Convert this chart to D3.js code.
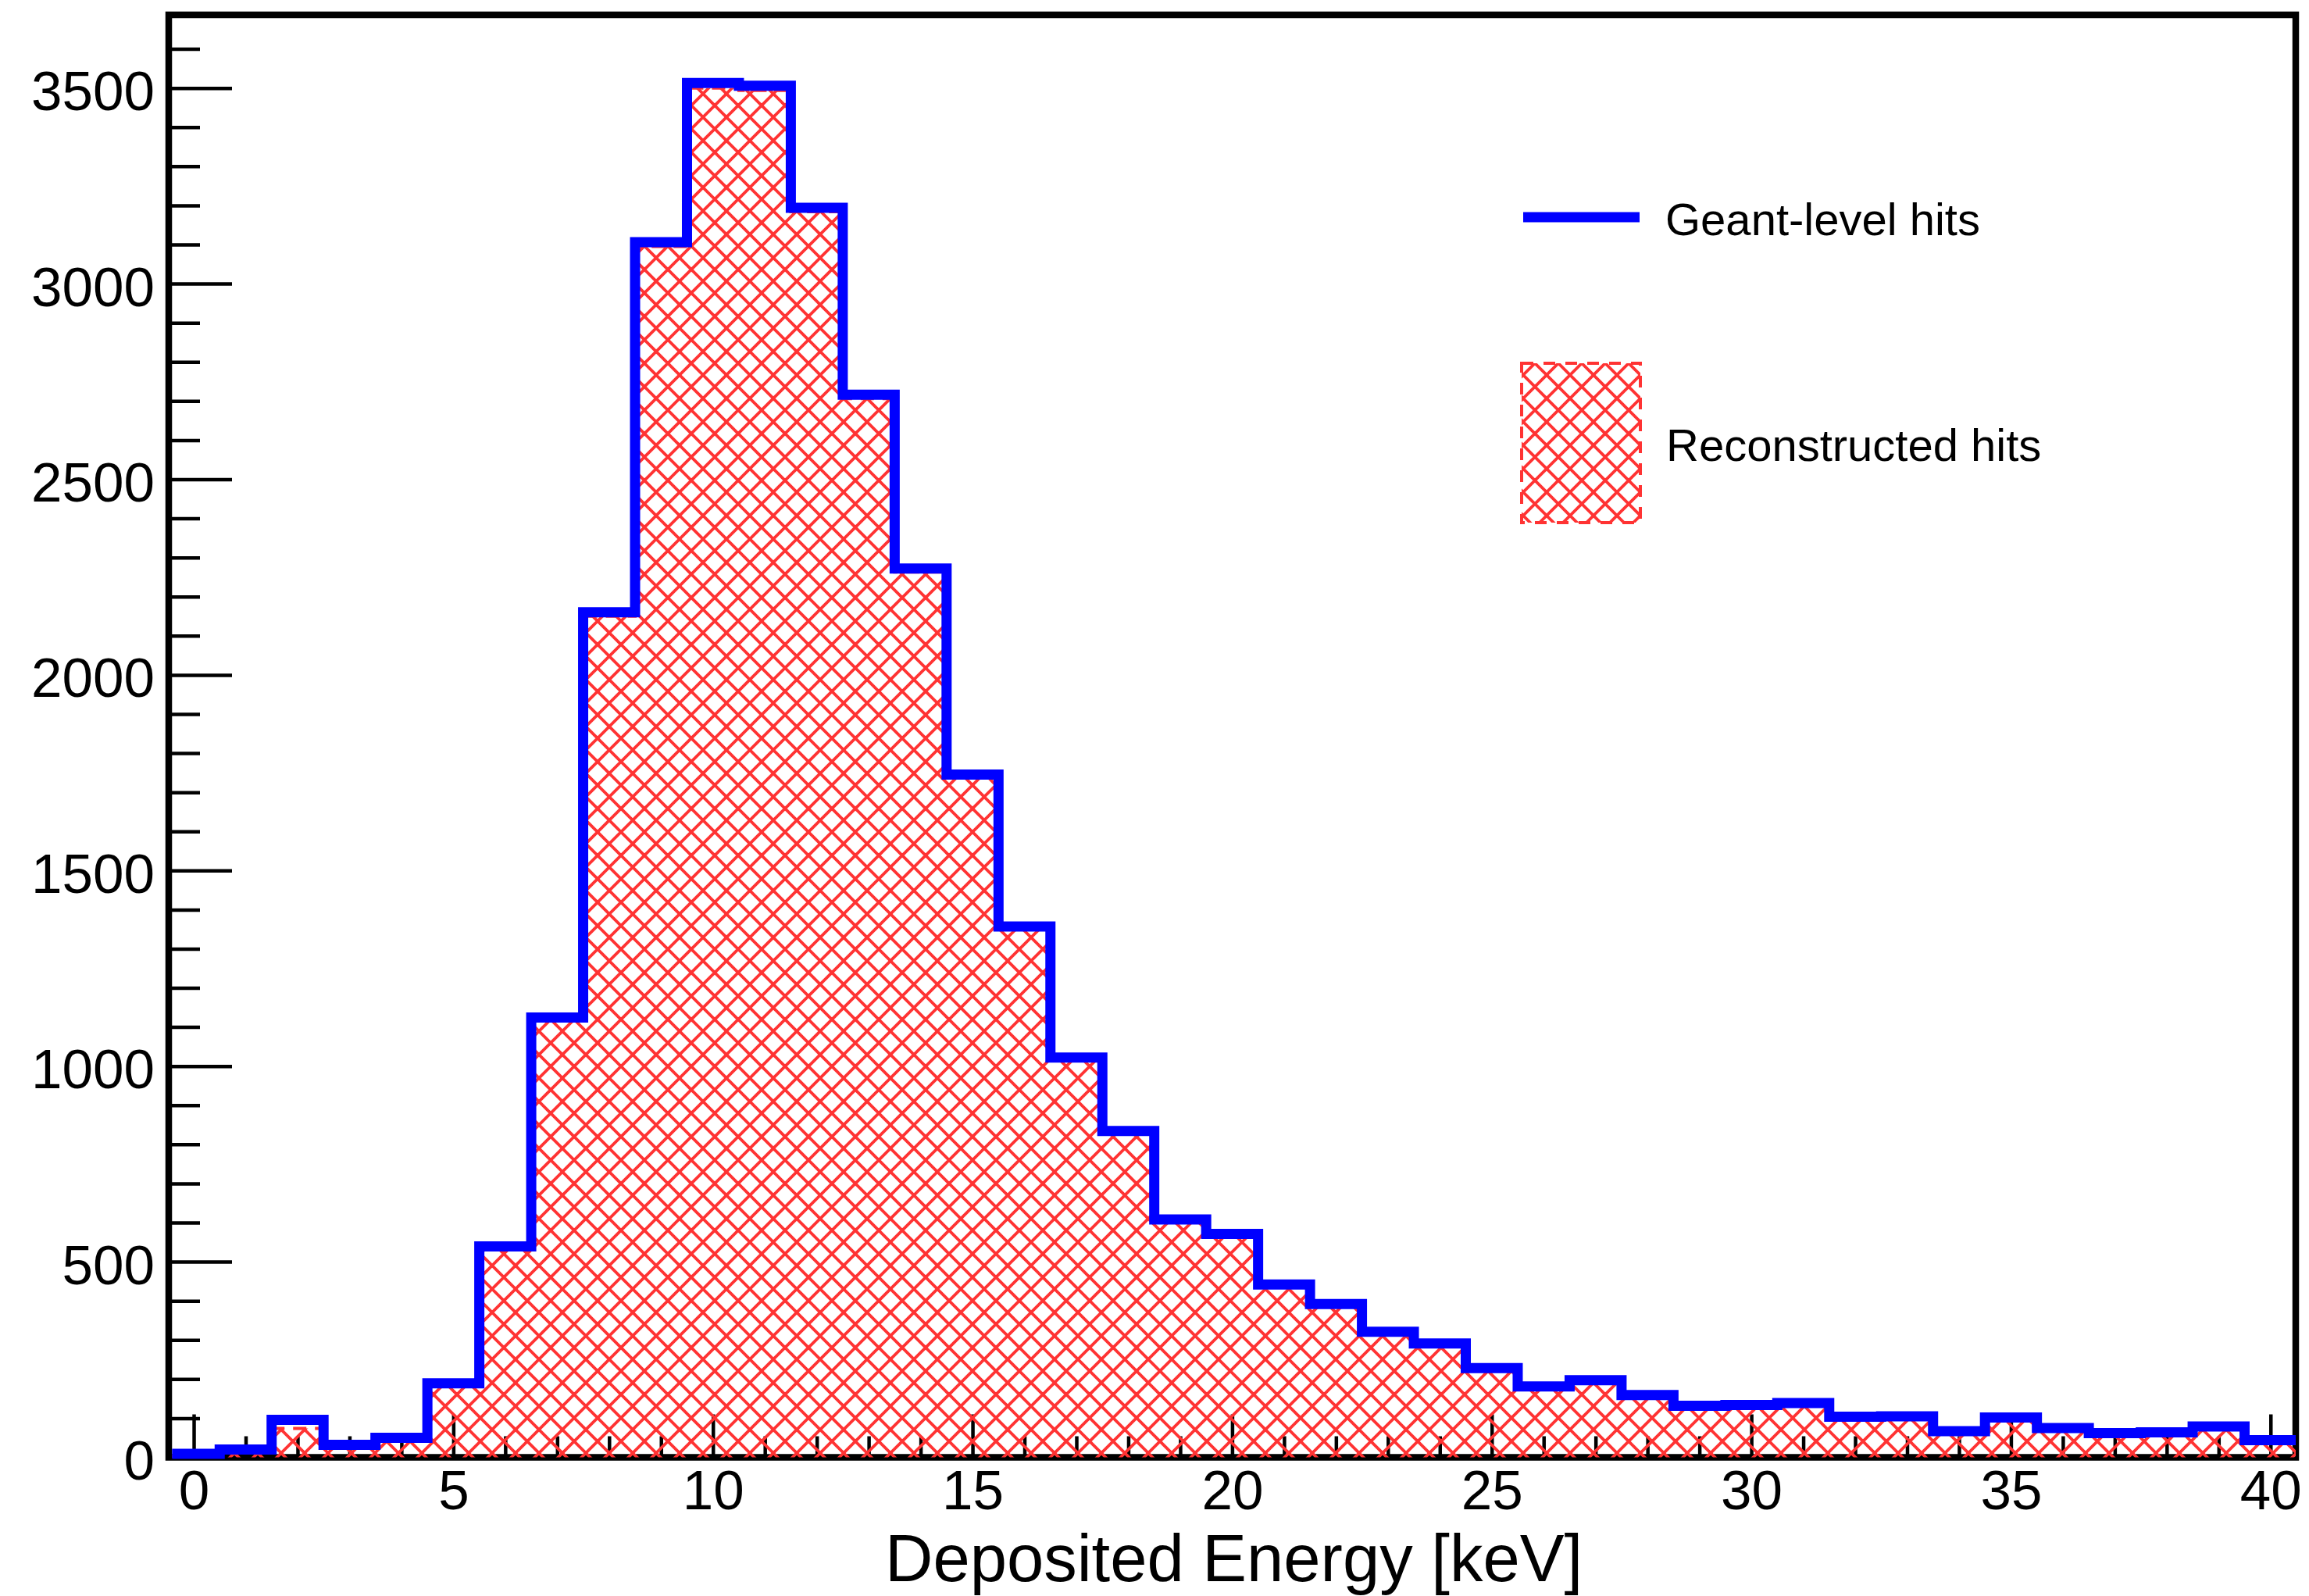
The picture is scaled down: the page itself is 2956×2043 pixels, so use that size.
<!DOCTYPE html>
<html>
<head>
<meta charset="utf-8">
<script src="https://cdn.jsdelivr.net/npm/d3@7"></script>
<style>
  html, body { margin: 0; padding: 0; background: #fff; }
  svg { display: block; }
  text { font-family: "Liberation Sans", Arial, Helvetica, sans-serif; fill: #000; }
</style>
</head>
<body>
<svg id="chart" width="2956" height="2043"></svg>
<script>
// ---- data ----
const binCenters = d3.range(0, 41); // Deposited energy bins, keV (width 1, centred on integers)
const geantHits = [9, 20, 96, 32, 50, 189, 539, 1124, 2160, 3106, 3513, 3506, 3194, 2716, 2272, 1745,
  1357, 1022, 834, 608, 571, 442, 392, 321, 291, 228, 181, 197, 159, 132, 134, 139, 104, 105, 67,
  102, 75, 62, 64, 79, 44];
const recoHits = [3, 14, 74, 30, 47, 186, 534, 1117, 2150, 3095, 3500, 3494, 3184, 2706, 2263, 1738,
  1351, 1017, 829, 604, 567, 438, 388, 318, 288, 225, 178, 194, 156, 130, 131, 136, 101, 103, 65,
  99, 73, 60, 62, 76, 42];
const xMajorTicks = [0, 5, 10, 15, 20, 25, 30, 35, 40];
const xMinorTicks = d3.range(0, 41).filter(v => v % 5 !== 0);
const yMajorTicks = [0, 500, 1000, 1500, 2000, 2500, 3000, 3500];
const yMinorTicks = d3.range(100, 3700, 100).filter(v => v % 500 !== 0);
const legendLabels = ["Geant-level hits", "Reconstructed hits"];
const xTitle = "Deposited Energy [keV]";

// ---- layout ----
const W = 2956, H = 2043;
const frame = { left: 216, right: 2939, top: 19, bottom: 1865.5 };
const svg = d3.select("#chart");
svg.append("rect").attr("width", W).attr("height", H).attr("fill", "#fff");

const x = d3.scaleLinear().domain([-0.5, 40.5]).range([214.8, 2940]);
const y = d3.scaleLinear().domain([0, 3690]).range([1865.5, 1865.5 - 3690 * 0.5008]);

// hatch pattern
const P = 30;
const defs = svg.append("defs");
const pat = defs.append("pattern").attr("id", "hatch").attr("patternUnits", "userSpaceOnUse")
  .attr("width", P).attr("height", P);
let d = "";
for (let k = -1; k <= 1; k++) {
  d += `M${-P},${-P + k * P} L${2 * P},${2 * P + k * P} `;
  d += `M${-P},${2 * P + k * P} L${2 * P},${-P + k * P} `;
}
pat.append("path").attr("d", d).attr("stroke", "#ff3333").attr("stroke-width", 3.8).attr("fill", "none");

defs.append("clipPath").attr("id", "inner").append("rect")
  .attr("x", frame.left + 4.3).attr("y", frame.top).attr("width", frame.right - frame.left - 4.3)
  .attr("height", frame.bottom - frame.top + 10);

// step data: bin edges
const stepPts = (vals) => vals.map((v, i) => [binCenters[i] - 0.5, v])
  .concat([[binCenters[binCenters.length - 1] + 0.5, vals[vals.length - 1]]]);

// reconstructed: hatched area
const area = d3.area().curve(d3.curveStepAfter).x(p => x(p[0])).y0(y(0)).y1(p => y(p[1]));
const line = d3.line().curve(d3.curveStepAfter).x(p => x(p[0])).y(p => y(p[1]));
const g = svg.append("g").attr("clip-path", "url(#inner)");
g.append("path").datum(stepPts(recoHits)).attr("d", area).attr("fill", "url(#hatch)");
g.append("path").datum(stepPts(recoHits)).attr("d", line).attr("fill", "none")
  .attr("stroke", "#ff3333").attr("stroke-width", 4).attr("stroke-dasharray", "17 11");

// axes ticks
const tickW = 4.5;
const yMajor = svg.append("g").attr("transform", `translate(${frame.left},0)`)
  .call(d3.axisLeft(y).tickValues(yMajorTicks).tickSize(-81).tickSizeOuter(0).tickPadding(18).tickFormat(d3.format("d")));
const yMinor = svg.append("g").attr("transform", `translate(${frame.left},0)`)
  .call(d3.axisLeft(y).tickValues(yMinorTicks).tickSize(-40).tickSizeOuter(0).tickFormat(""));
const xMajor = svg.append("g").attr("transform", `translate(0,${frame.bottom})`)
  .call(d3.axisBottom(x).tickValues(xMajorTicks).tickSize(-55).tickSizeOuter(0).tickPadding(0).tickFormat(d3.format("d")));
const xMinor = svg.append("g").attr("transform", `translate(0,${frame.bottom})`)
  .call(d3.axisBottom(x).tickValues(xMinorTicks).tickSize(-27).tickSizeOuter(0).tickFormat(""));
[yMajor, yMinor, xMajor, xMinor].forEach(a => {
  a.select(".domain").remove();
  a.selectAll(".tick line").attr("stroke", "#000").attr("stroke-width", tickW);
  a.attr("font-family", null).attr("font-size", null);
});
yMajor.selectAll(".tick text").attr("font-size", 71).attr("dy", 28).attr("x", -18);
xMajor.selectAll(".tick text").attr("font-size", 71).attr("y", 0).attr("dy", 66);

// frame
svg.append("rect").attr("x", frame.left).attr("y", frame.top)
  .attr("width", frame.right - frame.left).attr("height", frame.bottom - frame.top)
  .attr("fill", "none").attr("stroke", "#000").attr("stroke-width", 8.5);

// geant-level: blue step line on top
g.append("path").datum(stepPts(geantHits)).attr("d", line).attr("fill", "none")
  .attr("stroke", "#0000ff").attr("stroke-width", 13).attr("stroke-linejoin", "miter");
g.raise();

// x title
svg.append("text").attr("x", (frame.left + frame.right) / 2 + 2).attr("y", 2024)
  .attr("text-anchor", "middle").attr("font-size", 85).text(xTitle);

// legend
const leg = svg.append("g");
leg.append("line").attr("x1", 1950).attr("x2", 2099).attr("y1", 278).attr("y2", 278)
  .attr("stroke", "#0000ff").attr("stroke-width", 13);
leg.append("text").attr("x", 2132).attr("y", 301).attr("font-size", 58).text(legendLabels[0]);
leg.append("rect").attr("x", 1948).attr("y", 465).attr("width", 152).attr("height", 204)
  .attr("fill", "url(#hatch)").attr("stroke", "#ff3333").attr("stroke-width", 4).attr("stroke-dasharray", "15 13");
leg.append("text").attr("x", 2133).attr("y", 590).attr("font-size", 58).text(legendLabels[1]);
</script>
</body>
</html>
